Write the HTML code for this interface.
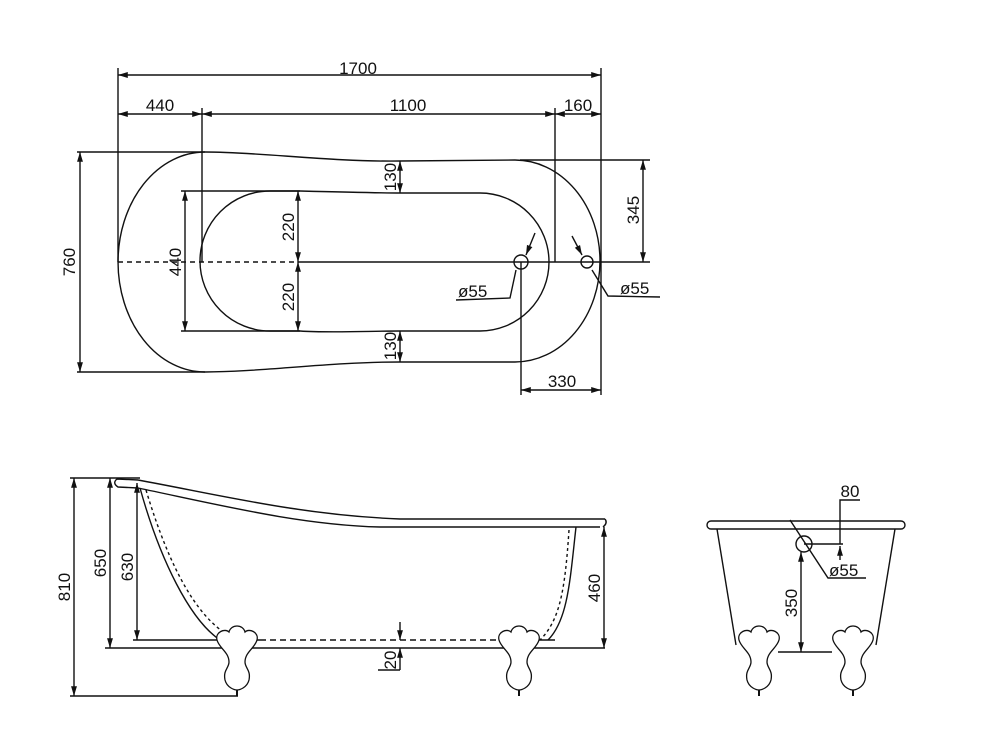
<!DOCTYPE html>
<html><head><meta charset="utf-8"><style>
html,body{margin:0;padding:0;background:#fff;}
svg{display:block}
text{font-family:"Liberation Sans",sans-serif;font-size:17px;fill:#111;}
</style></head><body>
<svg width="1000" height="737" viewBox="0 0 1000 737" xmlns="http://www.w3.org/2000/svg">
<defs>
<marker id="a" viewBox="0 0 10 10" refX="10" refY="5" markerWidth="7" markerHeight="7" orient="auto-start-reverse"><path d="M0,2 L10,5 L0,8 z" fill="#111"/></marker>
<g id="foot"><path d="M-20,10 C-22,2 -12,-2 -8,2 C-6,-6 6,-6 8,2 C12,-2 22,2 20,10 C18,18 8,22 8,32 C8,38 14,40 12,50 C10,58 2,60 0,60 C-2,60 -10,58 -12,50 C-14,40 -8,38 -8,32 C-8,22 -18,18 -20,10 Z" fill="#fff" stroke="#111" stroke-width="1.3"/><line x1="0" y1="60" x2="0" y2="66" stroke="#111" stroke-width="2"/></g>
</defs>
<g stroke="#111" stroke-width="1.4" fill="none">
<line x1="118" y1="75" x2="601" y2="75" marker-start="url(#a)" marker-end="url(#a)"/>
<line x1="118" y1="68" x2="118" y2="262"/>
<line x1="601" y1="68" x2="601" y2="395"/>
<line x1="118" y1="114" x2="202" y2="114" marker-start="url(#a)" marker-end="url(#a)"/>
<line x1="202" y1="114" x2="555" y2="114" marker-start="url(#a)" marker-end="url(#a)"/>
<line x1="555" y1="114" x2="601" y2="114" marker-start="url(#a)" marker-end="url(#a)"/>
<line x1="202" y1="108" x2="202" y2="262"/>
<line x1="555" y1="108" x2="555" y2="262"/>
<path d="M205,152 C260,152 330,162 400,161 L515,160 A85,101 0 0 1 515,362 L400,362 C330,362 260,372 205,372 A87,110 0 0 1 205,152 Z"/>
<path d="M270,191 L300,191 C340,192 380,193 400,193 L480,193 A69,69 0 0 1 480,331 L400,331 C370,331 330,333 300,331 L270,331 A70,70 0 0 1 270,191 Z"/>
<line x1="77" y1="152" x2="205" y2="152"/>
<line x1="77" y1="372" x2="205" y2="372"/>
<line x1="520" y1="160" x2="650" y2="160"/>
<line x1="118" y1="262" x2="298" y2="262" stroke-dasharray="5,4"/>
<line x1="298" y1="262" x2="650" y2="262"/>
<line x1="80" y1="152" x2="80" y2="372" marker-start="url(#a)" marker-end="url(#a)"/>
<line x1="181" y1="191" x2="300" y2="191"/>
<line x1="181" y1="331" x2="300" y2="331"/>
<line x1="185" y1="191" x2="185" y2="331" marker-start="url(#a)" marker-end="url(#a)"/>
<line x1="298" y1="191" x2="298" y2="262" marker-start="url(#a)" marker-end="url(#a)"/>
<line x1="298" y1="262" x2="298" y2="331" marker-start="url(#a)" marker-end="url(#a)"/>
<line x1="400" y1="161" x2="400" y2="193" marker-start="url(#a)" marker-end="url(#a)"/>
<line x1="400" y1="331" x2="400" y2="362" marker-start="url(#a)" marker-end="url(#a)"/>
<line x1="643" y1="160" x2="643" y2="262" marker-start="url(#a)" marker-end="url(#a)"/>
<circle cx="521" cy="262" r="7"/>
<circle cx="587" cy="262" r="6"/>
<line x1="535" y1="233" x2="526" y2="255" marker-end="url(#a)"/>
<polyline points="516,270 510,298 456,300"/>
<line x1="572" y1="236" x2="582" y2="255" marker-end="url(#a)"/>
<polyline points="592,270 608,296 660,297"/>
<line x1="521" y1="262" x2="521" y2="395"/>
<line x1="521" y1="390" x2="601" y2="390" marker-start="url(#a)" marker-end="url(#a)"/>
<line x1="70" y1="478" x2="140" y2="478"/>
<line x1="70" y1="696" x2="238" y2="696"/>
<line x1="74" y1="478" x2="74" y2="696" marker-start="url(#a)" marker-end="url(#a)"/>
<line x1="110" y1="478" x2="110" y2="648" marker-start="url(#a)" marker-end="url(#a)"/>
<line x1="137" y1="483" x2="137" y2="640" marker-start="url(#a)" marker-end="url(#a)"/>
<line x1="105" y1="648" x2="605" y2="648"/>
<line x1="133" y1="640" x2="260" y2="640"/>
<line x1="260" y1="640" x2="500" y2="640" stroke-dasharray="6,4"/>
<line x1="500" y1="640" x2="555" y2="640"/>
<path d="M138,480 C220,495 300,515 400,519 L605,519"/>
<path d="M138,488 C220,505 300,525 380,527 L600,527"/>
<path d="M605,519 Q608,523 603,527"/>
<path d="M138,480 L117,479 Q112,483 118,487 L138,488"/>
<path d="M140,488 C160,560 190,620 220,640"/>
<path d="M146,490 C170,570 200,625 238,640" stroke-dasharray="3,3"/>
<path d="M576,527 C570,580 568,620 548,640"/>
<path d="M569,530 C565,590 560,620 540,640" stroke-dasharray="3,3"/>
<line x1="604" y1="527" x2="604" y2="648" marker-start="url(#a)" marker-end="url(#a)"/>
<line x1="400" y1="622" x2="400" y2="640" marker-end="url(#a)"/>
<line x1="400" y1="670" x2="400" y2="648" marker-end="url(#a)"/>
<line x1="378" y1="670" x2="400" y2="670"/>
<rect x="707" y="521" width="198" height="8" rx="4"/>
<line x1="717" y1="529" x2="736" y2="645"/>
<line x1="895" y1="529" x2="876" y2="645"/>
<circle cx="804" cy="544" r="8"/>
<line x1="804" y1="544" x2="843" y2="544"/>
<polyline points="790,520 828,578 866,578"/>
<polyline points="860,500 840,500 840,544" />
<line x1="840" y1="560" x2="840" y2="546" marker-end="url(#a)"/>
<line x1="801" y1="552" x2="801" y2="652" marker-start="url(#a)" marker-end="url(#a)"/>
<line x1="778" y1="652" x2="832" y2="652"/>
</g>
<use href="#foot" x="237" y="630"/>
<use href="#foot" x="519" y="630"/>
<use href="#foot" x="759" y="630"/>
<use href="#foot" x="853" y="630"/>
<text x="358" y="74" text-anchor="middle">1700</text>
<text x="160" y="111" text-anchor="middle">440</text>
<text x="408" y="111" text-anchor="middle">1100</text>
<text x="578" y="111" text-anchor="middle">160</text>
<text transform="translate(75,262) rotate(-90)" text-anchor="middle">760</text>
<text transform="translate(181,262) rotate(-90)" text-anchor="middle">440</text>
<text transform="translate(294,227) rotate(-90)" text-anchor="middle">220</text>
<text transform="translate(294,297) rotate(-90)" text-anchor="middle">220</text>
<text transform="translate(396,177) rotate(-90)" text-anchor="middle">130</text>
<text transform="translate(396,346) rotate(-90)" text-anchor="middle">130</text>
<text transform="translate(639,210) rotate(-90)" text-anchor="middle">345</text>
<text x="458" y="297">ø55</text>
<text x="620" y="294">ø55</text>
<text x="562" y="387" text-anchor="middle">330</text>
<text transform="translate(70,587) rotate(-90)" text-anchor="middle">810</text>
<text transform="translate(106,563) rotate(-90)" text-anchor="middle">650</text>
<text transform="translate(133,567) rotate(-90)" text-anchor="middle">630</text>
<text transform="translate(600,588) rotate(-90)" text-anchor="middle">460</text>
<text transform="translate(396,660) rotate(-90)" text-anchor="middle">20</text>
<text x="850" y="497" text-anchor="middle">80</text>
<text x="829" y="576">ø55</text>
<text transform="translate(797,603) rotate(-90)" text-anchor="middle">350</text>
</svg>
</body></html>
